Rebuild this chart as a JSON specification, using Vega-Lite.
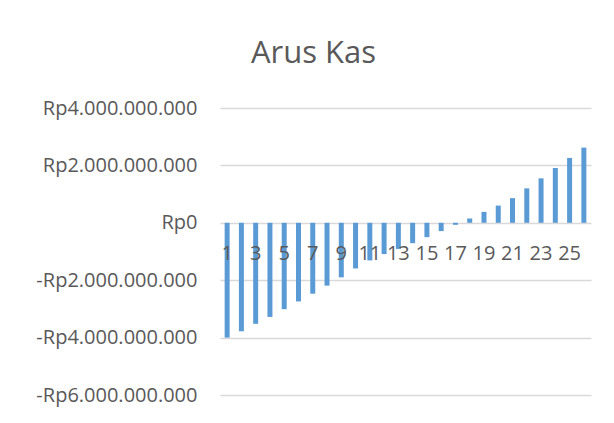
{
  "$schema": "https://vega.github.io/schema/vega-lite/v6.json",
  "width": 371,
  "height": 287,
  "autosize": {"type": "none"},
  "padding": {"left": 220, "top": 108, "right": 23, "bottom": 28},
  "background": "white",
  "title": {
    "text": "Arus Kas",
    "font": "Open Sans",
    "fontSize": 31,
    "fontWeight": "normal",
    "color": "#595959",
    "anchor": "middle",
    "dx": -92,
    "offset": 28
  },
  "data": {
    "values": [
      {"periode": 1, "kas": -4000000000},
      {"periode": 2, "kas": -3780000000},
      {"periode": 3, "kas": -3520000000},
      {"periode": 4, "kas": -3280000000},
      {"periode": 5, "kas": -3010000000},
      {"periode": 6, "kas": -2740000000},
      {"periode": 7, "kas": -2470000000},
      {"periode": 8, "kas": -2190000000},
      {"periode": 9, "kas": -1900000000},
      {"periode": 10, "kas": -1590000000},
      {"periode": 11, "kas": -1310000000},
      {"periode": 12, "kas": -1090000000},
      {"periode": 13, "kas": -910000000},
      {"periode": 14, "kas": -710000000},
      {"periode": 15, "kas": -500000000},
      {"periode": 16, "kas": -290000000},
      {"periode": 17, "kas": -70000000},
      {"periode": 18, "kas": 150000000},
      {"periode": 19, "kas": 380000000},
      {"periode": 20, "kas": 600000000},
      {"periode": 21, "kas": 860000000},
      {"periode": 22, "kas": 1200000000},
      {"periode": 23, "kas": 1550000000},
      {"periode": 24, "kas": 1910000000},
      {"periode": 25, "kas": 2260000000},
      {"periode": 26, "kas": 2620000000}
    ]
  },
  "mark": {"type": "bar", "color": "#5b9bd5"},
  "encoding": {
    "x": {
      "field": "periode",
      "type": "ordinal",
      "scale": {"paddingInner": 0.65, "paddingOuter": 0.325},
      "axis": {
        "title": null,
        "values": [1, 3, 5, 7, 9, 11, 13, 15, 17, 19, 21, 23, 25],
        "labelAngle": 0,
        "domain": false,
        "ticks": false,
        "offset": -172,
        "labelPadding": 20,
        "labelFont": "Open Sans",
        "labelFontSize": 20,
        "labelColor": "#595959",
        "zindex": 1
      }
    },
    "y": {
      "field": "kas",
      "type": "quantitative",
      "scale": {"domain": [-6000000000, 4000000000], "nice": false},
      "axis": {
        "title": null,
        "values": [-6000000000, -4000000000, -2000000000, 0, 2000000000, 4000000000],
        "labelExpr": "datum.value < 0 ? '-Rp' + replace(format(-datum.value, ',.0f'), /,/g, '.') : 'Rp' + replace(format(datum.value, ',.0f'), /,/g, '.')",
        "domain": false,
        "ticks": false,
        "labelPadding": 23,
        "labelFont": "Open Sans",
        "labelFontSize": 20,
        "labelColor": "#595959",
        "grid": true,
        "gridColor": "#d9d9d9",
        "gridWidth": 1.5
      }
    }
  },
  "config": {"view": {"stroke": null}}
}
